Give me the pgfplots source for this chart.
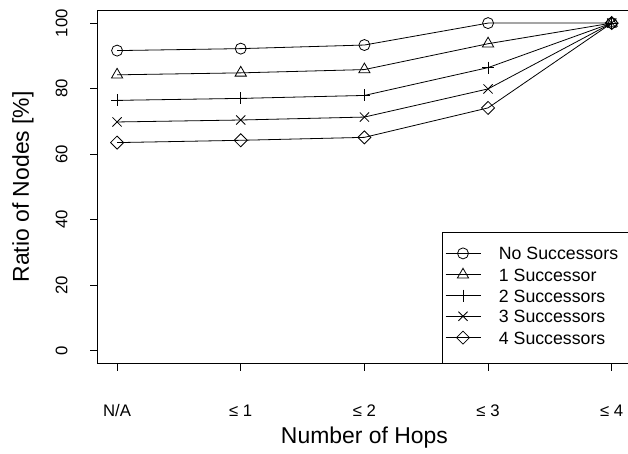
\documentclass[border=0pt]{standalone}
\usepackage{pgfplots}
\pgfplotsset{compat=1.18}
\usepackage{fontspec}
\setmainfont{Liberation Sans}
\begin{document}
\begin{tikzpicture}
\begin{axis}[
  at={(0,0)}, anchor=south west,
  scale only axis, width=534.2bp, height=353.6bp,
  xmin=0.84, xmax=5.16, ymin=-4, ymax=104,
  xtick={1,2,3,4,5}, xticklabels={N/A, ≤ 1, ≤ 2, ≤ 3, ≤ 4},
  ytick={0,20,40,60,80,100}, yticklabels={0,20,40,60,80,100},
  tick align=outside, tick pos=left, major tick length=7bp,
  axis line style={line width=0.8bp},
  every tick/.style={black, line width=0.8bp},
  xticklabel style={font=\fontsize{16.8}{20}\selectfont, anchor=base, inner sep=0pt},
  xticklabel shift=46bp,
  yticklabel style={font=\fontsize{16.8}{20}\selectfont, rotate=90, anchor=base, inner sep=0pt},
  yticklabel shift=23bp,
  xlabel={Number of Hops}, ylabel={Ratio of Nodes [\%]},
  label style={font=\fontsize{23}{27}\selectfont},
  xlabel style={at={([yshift=-79.4bp]axis description cs:0.5,0)}, anchor=base, inner sep=0pt},
  ylabel style={at={([xshift=-68.3bp]axis description cs:0,0.5)}, anchor=base, inner sep=0pt},
  legend style={at={(axis description cs:0.6447,0)}, anchor=south west, draw=black, line width=0.8bp,
    inner xsep=3bp, inner ysep=15.7bp, row sep=5bp, font=\fontsize{17.8}{21}\selectfont,
    cells={anchor=base west},
    nodes={inner sep=0pt, text height=12bp, text depth=3.5bp},
    /tikz/every odd column/.append style={column sep=18bp}},
  legend image code/.code={\draw[mark repeat=2, mark phase=2, #1] plot coordinates {(0bp,6.4bp) (17.5bp,6.4bp) (35bp,6.4bp)};},
]
\addplot[black, line width=0.8bp, mark=o, mark size=5.5bp] coordinates {(1,91.6) (2,92.2) (3,93.3) (4,100) (5,100)};
\addlegendentry{No Successors\hspace*{10bp}}
\addplot[black, line width=0.8bp, mark=triangle, mark size=6.5bp] coordinates {(1,84.2) (2,84.8) (3,85.8) (4,93.7) (5,100)};
\addlegendentry{1 Successor}
\addplot[black, line width=0.8bp, mark=+, mark size=6bp] coordinates {(1,76.4) (2,77.0) (3,77.9) (4,86.4) (5,100)};
\addlegendentry{2 Successors}
\addplot[black, line width=0.8bp, mark=x, mark size=6.5bp] coordinates {(1,69.8) (2,70.4) (3,71.3) (4,79.9) (5,100)};
\addlegendentry{3 Successors}
\addplot[black, line width=0.8bp, mark=square, mark size=4.6bp, mark options={rotate=45}] coordinates {(1,63.5) (2,64.2) (3,65.1) (4,74.1) (5,100)};
\addlegendentry{4 Successors}
\end{axis}
\pgfresetboundingbox
\path[use as bounding box] (-97.3bp,-90.4bp) rectangle (530.7bp,363.6bp);
\end{tikzpicture}
\end{document}
